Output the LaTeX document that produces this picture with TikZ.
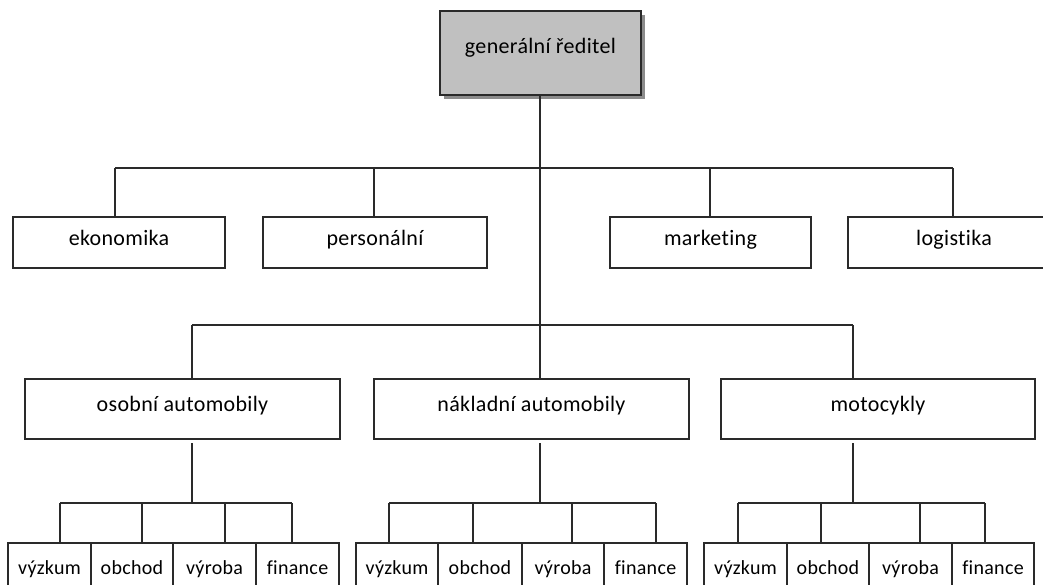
\documentclass[tikz,border=0pt]{standalone}
\usepackage{fontspec}
\setmainfont{Carlito}[Ligatures=NoCommon, LetterSpace=1.5]
\definecolor{ln}{HTML}{2A2A2A}
\definecolor{topfill}{HTML}{C0C0C0}
\definecolor{shadowc}{HTML}{8C8C8C}
\begin{document}
\begin{tikzpicture}[x=1pt,y=-1pt,
  conn/.style={line width=1.4pt, draw=ln},
  box/.style={rectangle, draw=ln, line width=1.4pt, fill=white, inner sep=0pt,
     font=\fontsize{22}{24}\selectfont, text height=0.7em, text depth=0.2em},
  topbox/.style={box, fill=topfill, text height=0.5em, text depth=0.5em},
  small/.style={box, font=\fontsize{20}{22}\selectfont, minimum height=58},
  shadowbox/.style={rectangle, fill=shadowc, draw=none, inner sep=0pt}
]
\useasboundingbox (0,0) rectangle (1043,584);
\clip (0,0) rectangle (1043,584);
\fill[white] (0,0) rectangle (1043,584);

% top
\node[shadowbox, minimum width=201, minimum height=84] (sh) at (544.5,57) {};
\node[topbox, minimum width=201, minimum height=84] (gr) at (540.5,53) {generální ředitel};

% staff departments
\node[box, minimum width=212, minimum height=51] (eko) at (119,242.5) {ekonomika};
\node[box, minimum width=224, minimum height=51] (per) at (375,242.5) {personální};
\node[box, minimum width=201, minimum height=51] (mar) at (710.5,242.5) {marketing};
\node[box, minimum width=212, minimum height=51] (log) at (954,242.5) {logistika};

% divisions
\node[box, minimum width=315, minimum height=60] (os) at (182.5,409) {osobní automobily};
\node[box, minimum width=315, minimum height=60] (na) at (531.5,409) {nákladní automobily};
\node[box, minimum width=314, minimum height=60] (mo) at (878,409) {motocykly};

% bus coordinates
\coordinate (b2) at (540,325);
\coordinate (e1) at (115,168);
\coordinate (p1) at (374,168);
\coordinate (m1) at (710,168);
\coordinate (l1) at (953,168);
\coordinate (o2) at (192,325);
\coordinate (n2) at (540,325);
\coordinate (t2) at (853,325);

\draw[conn] (gr.south -| b2) -- (b2);
\draw[conn] (e1) -- (l1);
\draw[conn] (e1) -- (eko.north -| e1);
\draw[conn] (p1) -- (per.north -| p1);
\draw[conn] (m1) -- (mar.north -| m1);
\draw[conn] (l1) -- (log.north -| l1);
\draw[conn] (o2) -- (t2);
\draw[conn] (o2) -- (os.north -| o2);
\draw[conn] (n2) -- (na.north -| n2);
\draw[conn] (t2) -- (mo.north -| t2);

% bottom groups
\foreach \g/\xa/\xb/\xc/\xd/\xe/\va/\vb/\vc/\vd/\pn/\px in
  {A/8/91/173/256/339/60/142/225/292/os/192,
   B/356/438/522/604/687/389/473/572/656/na/540,
   C/704/787/869/952/1034/738/821/920/985/mo/853}{
  \node[small, minimum width={\xb-\xa}] (\g1) at ({(\xa+\xb)/2},572) {výzkum};
  \node[small, minimum width={\xc-\xb}] (\g2) at ({(\xb+\xc)/2},572) {obchod};
  \node[small, minimum width={\xd-\xc}] (\g3) at ({(\xc+\xd)/2},572) {výroba};
  \node[small, minimum width={\xe-\xd}] (\g4) at ({(\xd+\xe)/2},572) {finance};
  \coordinate (\g a) at (\va,503);
  \coordinate (\g b) at (\vb,503);
  \coordinate (\g c) at (\vc,503);
  \coordinate (\g d) at (\vd,503);
  \coordinate (\g m) at (\px,443);
  \draw[conn] (\g m) -- (\g m |- \g a);
  \draw[conn] (\g a) -- (\g d);
  \draw[conn] (\g a) -- (\g a |- \g 1.north);
  \draw[conn] (\g b) -- (\g b |- \g 1.north);
  \draw[conn] (\g c) -- (\g c |- \g 1.north);
  \draw[conn] (\g d) -- (\g d |- \g 1.north);
}
\end{tikzpicture}
\end{document}
